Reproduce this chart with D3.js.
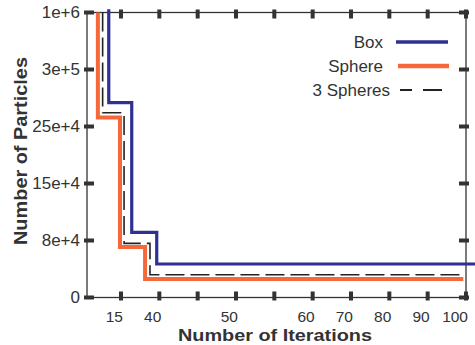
<!DOCTYPE html>
<html>
<head>
<meta charset="utf-8">
<script src="https://cdn.jsdelivr.net/npm/d3@7"></script>
<style>
  body { margin: 0; background: #fff; }
  svg { display: block; font-family: "Liberation Sans", Arial, sans-serif; }
</style>
</head>
<body>
<div id="chart"></div>
<script>
// --------------------------------------------
// DONNEES
// --------------------------------------------
const xTickVals = [15, 40, 45, 50, 55, 60, 70, 80, 90, 100];
const xTickLabels = ["15", "40", "", "50", "", "60", "70", "80", "90", "100"];
const yTickVals = [0, 8e4, 15e4, 25e4, 3e5, 1e6];
const yTickLabels = ["0", "8e+4", "15e+4", "25e+4", "3e+5", "1e+6"];

const seriesNames = ["Box", "Sphere", "3 Spheres"];
const boxIter = [13.2, 22, 38.3, 102.4];
const boxParticles = [1.04e6, 271000, 90000, 47000];
const sphereIter = [11.6, 14.85, 30.7, 99.3];
const sphereParticles = [1e6, 258000, 71000, 26000];
const spheres3Iter = [12.3, 17, 33.9, 99.6];
const spheres3Particles = [1e6, 262000, 76000, 32000];

// --------------------------------------------
// MISE EN PAGE
// --------------------------------------------
const W = 475, H = 345;
const pLeft = 87, pRight = 466, pTop = 12.5, pBottom = 297.5;
const firstGap = 34; // origine -> premier tick
const step = (pRight - pLeft - firstGap) / (xTickVals.length - 1);

const svg = d3.select("#chart").append("svg").attr("width", W).attr("height", H);

// echelles polylineaires (axes non reguliers)
const x = d3.scaleLinear()
  .domain([10, ...xTickVals])
  .range([pLeft, ...xTickVals.map((d, i) => pLeft + firstGap + i * step)]);
const y = d3.scaleLinear()
  .domain(yTickVals)
  .range(yTickVals.map((d, i) => pBottom - i * (pBottom - pTop) / (yTickVals.length - 1)));

const ink = "#333";

// cadre
svg.append("rect")
  .attr("x", pLeft).attr("y", pTop)
  .attr("width", pRight - pLeft).attr("height", pBottom - pTop)
  .attr("fill", "none").attr("stroke", ink).attr("stroke-width", 1.3);

// --------------------------------------------
// COURBES
// --------------------------------------------
const series = [
  { name: seriesNames[0], iter: boxIter, val: boxParticles, color: "#2e3192", width: 3.2, dash: null },
  { name: seriesNames[1], iter: sphereIter, val: sphereParticles, color: "#f4683a", width: 4, dash: null },
  { name: seriesNames[2], iter: spheres3Iter, val: spheres3Particles, color: "#222", width: 1.6, dash: "19,6" },
];

const line = d3.line()
  .x((d) => x(d[0]))
  .y((d) => y(d[1]))
  .curve(d3.curveStepBefore);

svg.selectAll("path.serie")
  .data(series)
  .enter()
  .append("path")
  .attr("class", "serie")
  .attr("fill", "none")
  .attr("stroke", (s) => s.color)
  .attr("stroke-width", (s) => s.width)
  .attr("stroke-dasharray", (s) => s.dash)
  .attr("d", (s) => line(s.iter.map((it, i) => [it, s.val[i]])));

// --------------------------------------------
// TICKS (epais, sur les 4 cotes)
// --------------------------------------------
const tickW = 4;
// bas
svg.selectAll("rect.tb").data(xTickVals).enter().append("rect")
  .attr("x", (d) => x(d) - tickW / 2).attr("y", pBottom - 6)
  .attr("width", tickW).attr("height", 9).attr("fill", ink);
// haut
svg.selectAll("rect.tt").data(xTickVals).enter().append("rect")
  .attr("x", (d) => x(d) - tickW / 2).attr("y", pTop - 3)
  .attr("width", tickW).attr("height", 9).attr("fill", ink);
// gauche
svg.selectAll("rect.tl").data(yTickVals).enter().append("rect")
  .attr("x", pLeft - 3).attr("y", (d) => y(d) - tickW / 2)
  .attr("width", 10).attr("height", tickW).attr("fill", ink);
// droite
svg.selectAll("rect.tr").data(yTickVals).enter().append("rect")
  .attr("x", pRight - 7).attr("y", (d) => y(d) - tickW / 2)
  .attr("width", 10).attr("height", tickW).attr("fill", ink);

// etiquettes x
svg.selectAll("text.xl").data(xTickVals).enter().append("text")
  .attr("x", (d) => x(d) + 2).attr("y", 321.5)
  .attr("text-anchor", "end")
  .attr("font-size", 15.5).attr("fill", "#333")
  .text((d, i) => xTickLabels[i]);

// etiquettes y
svg.selectAll("text.yl").data(yTickVals).enter().append("text")
  .attr("x", 80).attr("y", (d) => y(d))
  .attr("dy", "0.35em")
  .attr("text-anchor", "end")
  .attr("font-size", 17).attr("fill", "#333")
  .text((d, i) => yTickLabels[i]);

// titres des axes
svg.append("text")
  .attr("x", 275).attr("y", 341)
  .attr("text-anchor", "middle")
  .attr("font-size", 16).attr("font-weight", "bold").attr("fill", "#333")
  .attr("textLength", 194).attr("lengthAdjust", "spacingAndGlyphs")
  .text("Number of Iterations");

svg.append("text")
  .attr("transform", "translate(27,151) rotate(-90)")
  .attr("text-anchor", "middle")
  .attr("font-size", 19).attr("font-weight", "bold").attr("fill", "#333")
  .attr("textLength", 188).attr("lengthAdjust", "spacingAndGlyphs")
  .text("Number of Particles");

// --------------------------------------------
// LEGENDE
// --------------------------------------------
const legendY = [42, 66, 90];
const legendSamples = [[396, 448], [398, 449], [400, 442]];
const lg = svg.selectAll("g.legend").data(series).enter().append("g");

lg.append("text")
  .attr("x", (s, i) => (i === 2 ? 390 : 383))
  .attr("y", (s, i) => legendY[i])
  .attr("dy", "0.35em")
  .attr("text-anchor", "end")
  .attr("font-size", 17).attr("fill", "#333")
  .text((s) => s.name);

lg.append("line")
  .attr("x1", (s, i) => legendSamples[i][0]).attr("x2", (s, i) => legendSamples[i][1])
  .attr("y1", (s, i) => legendY[i]).attr("y2", (s, i) => legendY[i])
  .attr("stroke", (s) => s.color)
  .attr("stroke-width", (s) => s.width + 0.5)
  .attr("stroke-dasharray", (s) => (s.dash ? "12,11,19" : null));
</script>
</body>
</html>
